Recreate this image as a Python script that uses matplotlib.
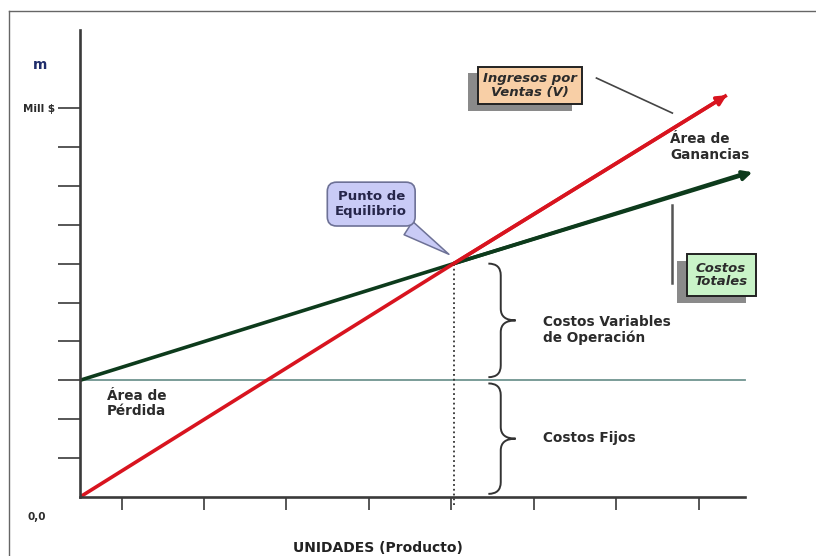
import matplotlib
matplotlib.use("Agg")

import matplotlib.pyplot as plt
import matplotlib.patheffects as pe
from matplotlib.path import Path
from matplotlib.patches import PathPatch
from matplotlib.lines import Line2D

# data (units; 1 x-unit = one tick step)
units_sales = [0.0, 4.53, 7.84]
sales = [0.0, 6.0, 10.33]
units_cost = [0.0, 4.53, 8.15]
total_cost = [3.0, 6.0, 8.35]
fixed_cost = 3.0
fixed_cost_end = 8.06
break_even_units = 4.53
break_even_value = 6.0
x_ticks = [0.51, 1.5, 2.5, 3.5, 4.5, 5.5, 6.5, 7.5]
y_ticks = [1, 2, 3, 4, 5, 6, 7, 8, 9, 10]
y_tick_labels = ["", "", "", "", "", "", "", "", "", "Mill $"]

TXT = "#2b2b2b"
BOLD = dict(fontsize=9.8, fontweight="bold", color=TXT, family="DejaVu Sans")

fig = plt.figure(figsize=(8.16, 5.56), dpi=100)
ax = fig.add_axes([80 / 816, 59 / 556, 700 / 816, 467 / 556])
ax.set_xlim(0, 700 / 82.5)
ax.set_ylim(0, 467 / 38.9)

for s in ("top", "right"):
    ax.spines[s].set_visible(False)
ax.spines["left"].set_linewidth(1.9)
ax.spines["left"].set_color("#3a3a3a")
ax.spines["bottom"].set_linewidth(1.9)
ax.spines["bottom"].set_color("#3a3a3a")
ax.spines["bottom"].set_bounds(0, fixed_cost_end)

ax.set_xticks(x_ticks)
ax.set_xticklabels([])
ax.tick_params(axis="x", direction="out", length=9, width=1.2, color="#3a3a3a")
ax.set_yticks(y_ticks)
ax.set_yticklabels(y_tick_labels)
ax.tick_params(axis="y", direction="out", length=16, width=1.2, color="#3a3a3a",
               pad=2, labelsize=7.5)
for lab in ax.get_yticklabels():
    lab.set_fontweight("bold")
    lab.set_color(TXT)

# fixed costs line
ax.plot([0, fixed_cost_end], [fixed_cost, fixed_cost], color="#6f9490", lw=1.3)

# break-even dotted line
ax.plot([break_even_units, break_even_units], [-0.2, break_even_value],
        color="#333333", lw=1.3, ls=":", clip_on=False)

# total costs and sales lines with arrow heads
ax.plot(units_cost[:-1] + [units_cost[-1] - 0.1], total_cost[:-1] + [total_cost[-1] - 0.035],
        color="#0d3b1c", lw=2.6, solid_capstyle="butt")
ax.annotate("", xy=(units_cost[-1], total_cost[-1]), xytext=(units_cost[-2], total_cost[-2]),
            arrowprops=dict(arrowstyle="-|>", color="#0d3b1c", lw=2.6, mutation_scale=14,
                            shrinkA=0, shrinkB=0))
ax.plot(units_sales, sales, color="#d8141f", lw=2.6, solid_capstyle="butt")
ax.annotate("", xy=(units_sales[-1], sales[-1]), xytext=(units_sales[-2], sales[-2]),
            arrowprops=dict(arrowstyle="-|>", color="#d8141f", lw=2.6, mutation_scale=14,
                            shrinkA=0, shrinkB=0))


def brace(x_end, x_spine, x_tip, y_top, y_bot, r):
    y_mid = (y_top + y_bot) / 2
    verts = [(x_end, y_top), (x_spine, y_top), (x_spine, y_top - r),
             (x_spine, y_mid + r),
             (x_spine, y_mid), (x_tip, y_mid),
             (x_spine, y_mid), (x_spine, y_mid - r),
             (x_spine, y_bot + r),
             (x_spine, y_bot), (x_end, y_bot)]
    codes = [Path.MOVETO, Path.CURVE3, Path.CURVE3, Path.LINETO,
             Path.CURVE3, Path.CURVE3, Path.CURVE3, Path.CURVE3,
             Path.LINETO, Path.CURVE3, Path.CURVE3]
    ax.add_patch(PathPatch(Path(verts, codes), fill=False, ec="#333333", lw=1.4))


brace(4.95, 5.10, 5.28, 6.0, 3.08, 0.3)
brace(4.95, 5.10, 5.28, 2.92, 0.08, 0.3)

# text labels
ax.text(5.61, 4.3, "Costos Variables\nde Operación", ha="left", va="center",
        linespacing=1.15, **BOLD)
ax.text(5.61, 1.51, "Costos Fijos", ha="left", va="center", **BOLD)
ax.text(7.15, 9.0, "Área de\nGanancias", ha="left", va="center", linespacing=1.15, **BOLD)
ax.text(0.33, 2.4, "Área de\nPérdida", ha="left", va="center", linespacing=1.15, **BOLD)

# callout: Ingresos por Ventas
ax.plot([6.26, 7.18], [10.77, 9.87], color="#444444", lw=1.2)
t1 = ax.text(5.45, 10.59, "Ingresos por\nVentas (V)", ha="center", va="center",
             fontsize=9.5, fontweight="bold", style="italic", color=TXT,
             linespacing=1.1,
             bbox=dict(boxstyle="square,pad=0.38", fc="#f8cfa6", ec="#222222", lw=1.4))
t1.get_bbox_patch().set_path_effects([
    pe.withSimplePatchShadow(offset=(-7, -5), shadow_rgbFace="#8a8a8a", alpha=1.0)])

# callout: Costos Totales
ax.plot([7.17, 7.17], [7.5, 5.5], color="#555555", lw=1.8)
t2 = ax.text(7.77, 5.71, "Costos\nTotales", ha="center", va="center",
             fontsize=9.5, fontweight="bold", style="italic", color=TXT,
             linespacing=1.05,
             bbox=dict(boxstyle="square,pad=0.6", fc="#c9f3c8", ec="#222222", lw=1.4))
t2.get_bbox_patch().set_path_effects([
    pe.withSimplePatchShadow(offset=(-7, -5), shadow_rgbFace="#8a8a8a", alpha=1.0)])

# callout: Punto de Equilibrio
ax.annotate("Punto de\nEquilibrio", xy=(break_even_units - 0.03, break_even_value + 0.2),
            xytext=(3.53, 7.53), ha="center", va="center",
            fontsize=9.5, fontweight="bold", color="#26264a", linespacing=1.2,
            bbox=dict(boxstyle="round,pad=0.6,rounding_size=0.7", fc="#c9cbf6", ec="#6d7196", lw=1.2),
            arrowprops=dict(arrowstyle="wedge,tail_width=1.2,shrink_factor=0.5",
                            fc="#c9cbf6", ec="#6d7196", lw=1.1))

# outside labels
fig.text(40 / 816, 1 - 65 / 556, "m", ha="center", va="center", fontsize=10,
         fontweight="bold", color="#1f2d6b")
fig.text(37 / 816, 1 - 517 / 556, "0,0", ha="center", va="center", fontsize=7.5,
         fontweight="bold", color=TXT)
fig.text(378 / 816, 1 - 548 / 556, "UNIDADES (Producto)", ha="center", va="center",
         fontsize=10, fontweight="bold", color="#222222",
         family=["Liberation Sans Narrow", "DejaVu Sans"])

# thin frame at top and left
fig.add_artist(Line2D([9 / 816, 1.0], [1 - 11 / 556, 1 - 11 / 556], color="#666666", lw=1.0))
fig.add_artist(Line2D([9 / 816, 9 / 816], [0, 1 - 11 / 556], color="#666666", lw=1.0))

fig.savefig("out.png", dpi=100, facecolor="white")
